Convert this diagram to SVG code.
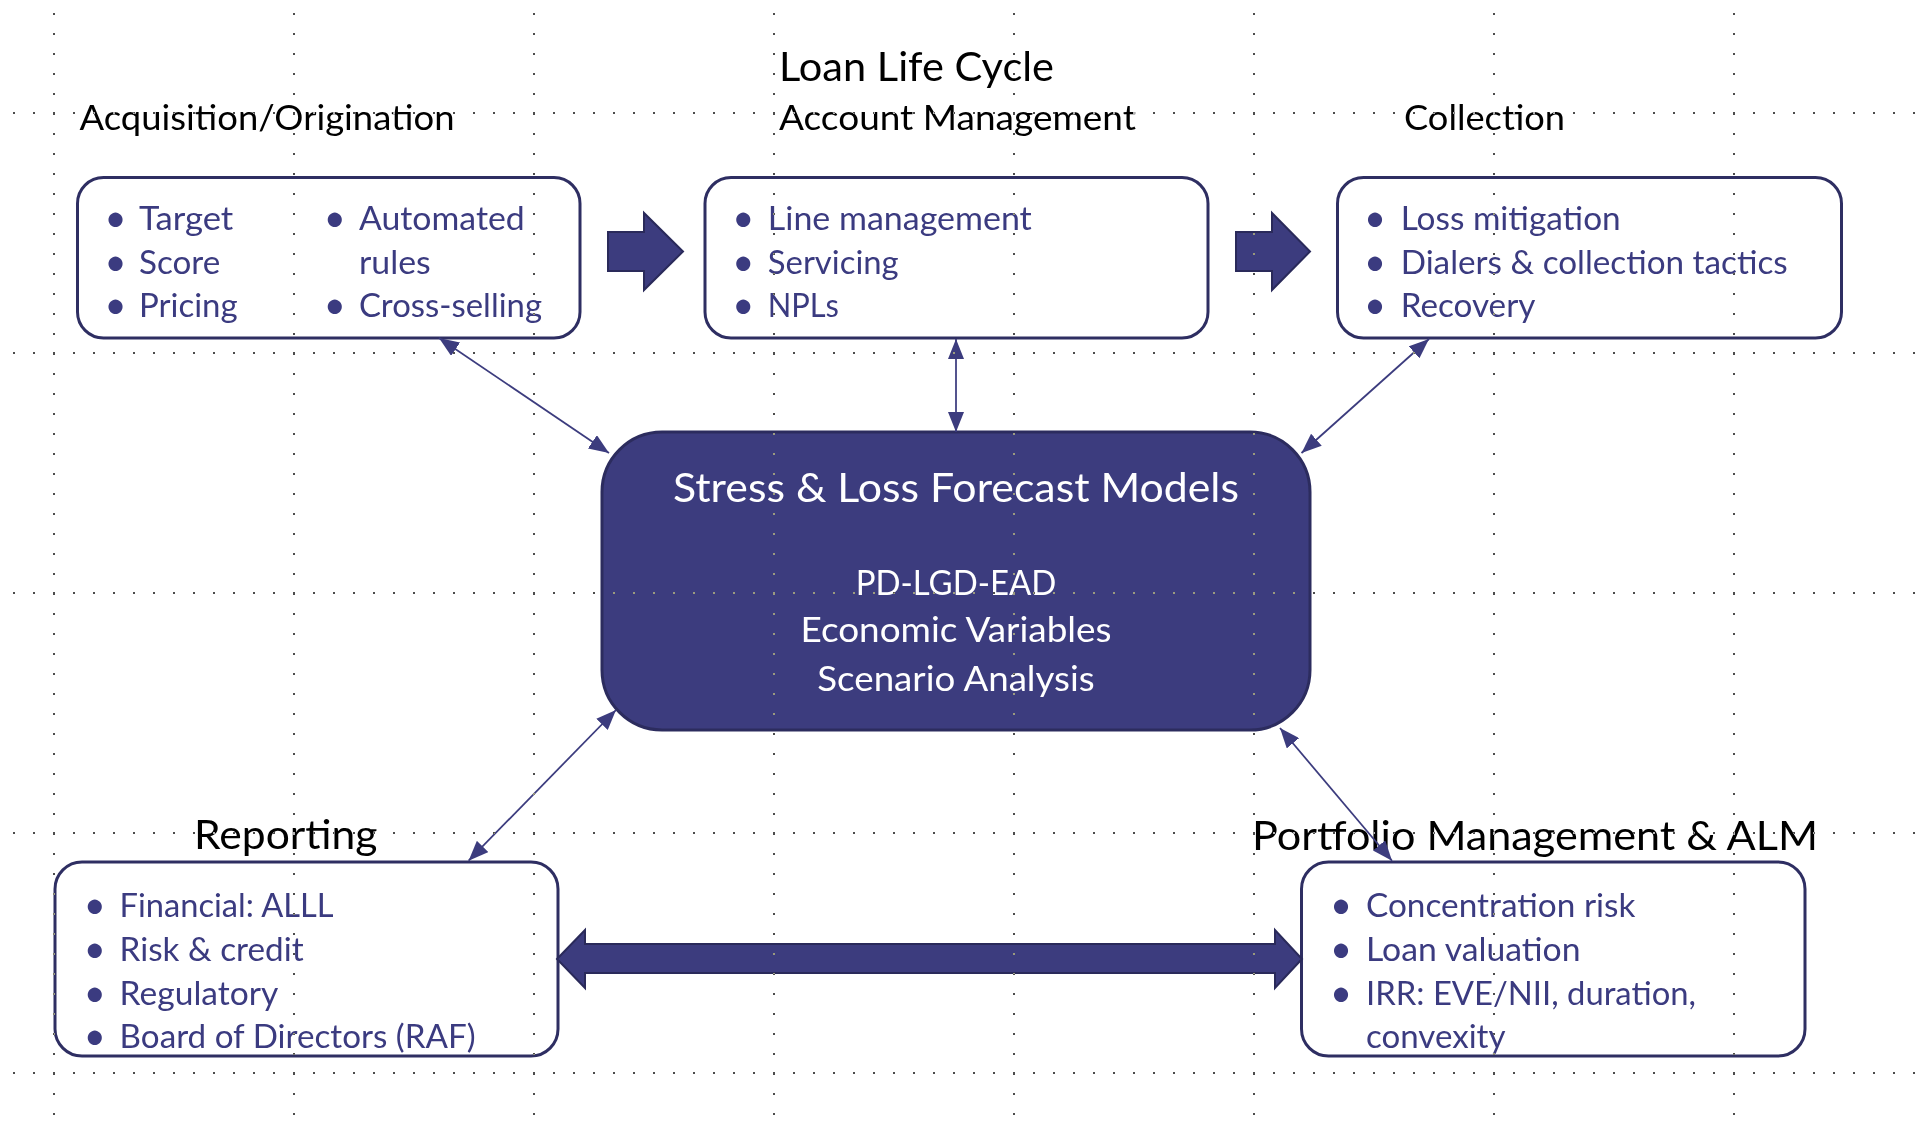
<svg xmlns="http://www.w3.org/2000/svg" width="1917" height="1130" viewBox="0 0 1917 1130">
<style>
text{font-family:Lato,'Open Sans','Liberation Sans',sans-serif}
.hd{fill:#000}
.h46{font-size:41px}
.h40{font-size:35.5px}
.b{font-size:32.5px;fill:#3b3b80}
.bl{font-size:38px;fill:#3b3b80;text-anchor:middle}
.w{fill:#fff;font-size:35.5px;text-anchor:middle}
.wt{fill:#fff;font-size:41px;text-anchor:middle}
.box{fill:#fff;stroke:#2e2e62;stroke-width:3}
.core{fill:#3c3c7e;stroke:#2c2c5e;stroke-width:3}
.big{fill:#3c3c7e;stroke:#2a2a5a;stroke-width:2;stroke-linejoin:miter}
.conn{stroke:#3c3c7e;stroke-width:1.75;fill:none;marker-start:url(#ah);marker-end:url(#ah)}
.grid{mix-blend-mode:difference;opacity:.7}
.grid line{stroke:#fff;stroke-width:2;stroke-dasharray:2 18;stroke-dashoffset:7}
</style>
<defs>
<marker id="ah" markerUnits="userSpaceOnUse" markerWidth="20" markerHeight="16" refX="20" refY="8" orient="auto-start-reverse">
<path d="M0,0 L20,8 L0,16 z" fill="#3c3c7e"/>
</marker>
</defs>
<rect width="1917" height="1130" fill="#fff"/>

<text id="title" class="hd h46" x="779" y="81" textLength="275" lengthAdjust="spacingAndGlyphs">Loan Life Cycle</text>

<g id="acquisition">
<text class="hd h40" x="79.5" y="130" textLength="375" lengthAdjust="spacingAndGlyphs">Acquisition/Origination</text>
<rect class="box" x="77.5" y="177.5" width="502.5" height="160.5" rx="26"/>
<text class="bl" x="115.5" y="231">•</text>
<text class="bl" x="115.5" y="274.5">•</text>
<text class="bl" x="115.5" y="318">•</text>
<text class="bl" x="334.7" y="231">•</text>
<text class="bl" x="334.7" y="318">•</text>
<text class="b" x="139" y="230" textLength="94.3" lengthAdjust="spacingAndGlyphs">Target</text>
<text class="b" x="139" y="273.5" textLength="81.2" lengthAdjust="spacingAndGlyphs">Score</text>
<text class="b" x="139" y="317" textLength="98.7" lengthAdjust="spacingAndGlyphs">Pricing</text>
<text class="b" x="359" y="230" textLength="165.7" lengthAdjust="spacingAndGlyphs">Automated</text>
<text class="b" x="359" y="273.5" textLength="71.7" lengthAdjust="spacingAndGlyphs">rules</text>
<text class="b" x="359" y="317" textLength="183" lengthAdjust="spacingAndGlyphs">Cross-selling</text>
</g>

<g id="account">
<text class="hd h40" x="779" y="130" textLength="357" lengthAdjust="spacingAndGlyphs">Account Management</text>
<rect class="box" x="705" y="177.5" width="503" height="160.5" rx="26"/>
<text class="bl" x="743.3" y="231">•</text>
<text class="bl" x="743.3" y="274.5">•</text>
<text class="bl" x="743.3" y="318">•</text>
<text class="b" x="767.8" y="230" textLength="264" lengthAdjust="spacingAndGlyphs">Line management</text>
<text class="b" x="767.8" y="273.5" textLength="130.9" lengthAdjust="spacingAndGlyphs">Servicing</text>
<text class="b" x="767.8" y="317" textLength="71.1" lengthAdjust="spacingAndGlyphs">NPLs</text>
</g>

<g id="collection">
<text class="hd h40" x="1404" y="130" textLength="161" lengthAdjust="spacingAndGlyphs">Collection</text>
<rect class="box" x="1337.5" y="177.5" width="504" height="160.5" rx="26"/>
<text class="bl" x="1375" y="231">•</text>
<text class="bl" x="1375" y="274.5">•</text>
<text class="bl" x="1375" y="318">•</text>
<text class="b" x="1400.7" y="230" textLength="220" lengthAdjust="spacingAndGlyphs">Loss mitigation</text>
<text class="b" x="1400.7" y="273.5" textLength="387" lengthAdjust="spacingAndGlyphs">Dialers &amp; collection tactics</text>
<text class="b" x="1400.7" y="317" textLength="134.7" lengthAdjust="spacingAndGlyphs">Recovery</text>
</g>

<g id="models">
<rect class="core" x="602" y="432" width="708" height="298" rx="60"/>
<text class="wt" x="956" y="502" textLength="566" lengthAdjust="spacingAndGlyphs">Stress &amp; Loss Forecast Models</text>
<text class="w" x="956" y="595" textLength="200.5" lengthAdjust="spacingAndGlyphs">PD-LGD-EAD</text>
<text class="w" x="956" y="642" textLength="311" lengthAdjust="spacingAndGlyphs">Economic Variables</text>
<text class="w" x="956" y="690.5" textLength="277.3" lengthAdjust="spacingAndGlyphs">Scenario Analysis</text>
</g>

<g id="reporting">
<text class="hd h46" x="194" y="849" textLength="183.5" lengthAdjust="spacingAndGlyphs">Reporting</text>
<rect class="box" x="55" y="862" width="503" height="194" rx="27"/>
<text class="bl" x="94.7" y="918">•</text>
<text class="bl" x="94.7" y="962">•</text>
<text class="bl" x="94.7" y="1005.5">•</text>
<text class="bl" x="94.7" y="1049">•</text>
<text class="b" x="119.6" y="917" textLength="214" lengthAdjust="spacingAndGlyphs">Financial: ALLL</text>
<text class="b" x="119.6" y="961" textLength="184" lengthAdjust="spacingAndGlyphs">Risk &amp; credit</text>
<text class="b" x="119.6" y="1004.5" textLength="158.7" lengthAdjust="spacingAndGlyphs">Regulatory</text>
<text class="b" x="119.6" y="1048" textLength="356" lengthAdjust="spacingAndGlyphs">Board of Directors (RAF)</text>
</g>

<g id="portfolio">
<text class="hd h46" x="1252" y="850" textLength="566" lengthAdjust="spacingAndGlyphs">Portfolio Management &amp; ALM</text>
<rect class="box" x="1301.5" y="862" width="503.5" height="194" rx="27"/>
<text class="bl" x="1341" y="918">•</text>
<text class="bl" x="1341" y="962">•</text>
<text class="bl" x="1341" y="1005.5">•</text>
<text class="b" x="1366" y="917" textLength="269.5" lengthAdjust="spacingAndGlyphs">Concentration risk</text>
<text class="b" x="1366" y="961" textLength="214.5" lengthAdjust="spacingAndGlyphs">Loan valuation</text>
<text class="b" x="1366" y="1004.5" textLength="330" lengthAdjust="spacingAndGlyphs">IRR: EVE/NII, duration,</text>
<text class="b" x="1366" y="1048" textLength="139.5" lengthAdjust="spacingAndGlyphs">convexity</text>
</g>

<g id="connectors">
<polygon class="big" points="608,232 644,232 644,213 683,251.5 644,290 644,271 608,271"/>
<polygon class="big" points="1236,232 1272,232 1272,213 1310,251.5 1272,290 1272,271 1236,271"/>
<polygon class="big" points="557,959 585,930 585,944 1275,944 1275,930 1302,959 1275,988 1275,973 585,973 585,988"/>
<line class="conn" x1="439" y1="338" x2="609" y2="453"/>
<line class="conn" x1="956" y1="339" x2="956" y2="432"/>
<line class="conn" x1="1429" y1="339" x2="1301.5" y2="453"/>
<line class="conn" x1="616" y1="710" x2="468.6" y2="860.7"/>
<line class="conn" x1="1280" y1="728" x2="1392" y2="860.7"/>
</g>

<g class="grid">
<line x1="0" y1="113" x2="1917" y2="113"/>
<line x1="0" y1="353" x2="1917" y2="353"/>
<line x1="0" y1="593" x2="1917" y2="593"/>
<line x1="0" y1="833" x2="1917" y2="833"/>
<line x1="0" y1="1073" x2="1917" y2="1073"/>
<line x1="54" y1="0" x2="54" y2="1130"/>
<line x1="294" y1="0" x2="294" y2="1130"/>
<line x1="534" y1="0" x2="534" y2="1130"/>
<line x1="774" y1="0" x2="774" y2="1130"/>
<line x1="1014" y1="0" x2="1014" y2="1130"/>
<line x1="1254" y1="0" x2="1254" y2="1130"/>
<line x1="1494" y1="0" x2="1494" y2="1130"/>
<line x1="1734" y1="0" x2="1734" y2="1130"/>
</g>
</svg>
